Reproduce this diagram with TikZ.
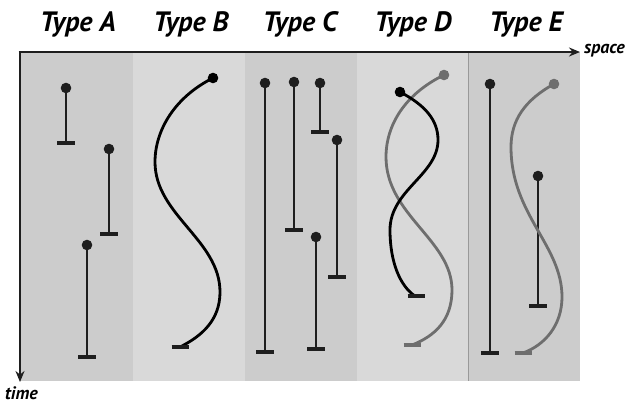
\documentclass[tikz,border=0pt]{standalone}
\usepackage{fontspec}
\setmainfont{PT Sans}
\usetikzlibrary{arrows.meta}
\definecolor{pdark}{HTML}{CCCCCC}
\definecolor{plight}{HTML}{D9D9D9}
\definecolor{ink}{HTML}{1E1E1E}
\definecolor{ghost}{HTML}{6E6E6E}
\tikzset{
  title/.style={font=\fontsize{28}{28}\selectfont\bfseries\itshape, inner sep=0pt, anchor=base},
  axlabel/.style={font=\fontsize{18}{18}\selectfont\bfseries\itshape, inner sep=0pt},
  axis/.style={draw=ink, line width=2.8pt},
  vline/.style={draw=ink, line width=2.8pt},
  endbar/.style={draw=ink, line width=3.4pt},
  blackcurve/.style={draw=black, line width=2.8pt},
  graycurve/.style={draw=ghost, line width=2.8pt},
}
\newcommand\lifeline[3]{%
  \draw[vline] (#1,#2) -- (#1,#3);
  \draw[endbar] (#1-9,#3) -- (#1+9,#3);
  \fill[ink] (#1,#2) circle (5.3);
}
\newcommand\topdot[3]{\fill[#3] (#1,#2) circle (5.3);}
\newcommand\botbar[3]{\draw[endbar,draw=#3] (#1-8.5,#2) -- (#1+8.5,#2);}
\begin{document}
\begin{tikzpicture}[x=1pt,y=-1pt]
\useasboundingbox (0,0) rectangle (629,403);
% panels
\fill[pdark]  (20,52) rectangle (132.5,381);
\fill[plight] (132.5,52) rectangle (245,381);
\fill[pdark]  (245,52) rectangle (357,381);
\fill[plight] (357,52) rectangle (468.5,381);
\fill[pdark]  (468.5,52) rectangle (580,381);
\draw[draw=black!40, line width=0.8pt] (468.5,52) -- (468.5,381);
% axes
\coordinate (O) at (20,52);
\coordinate (X) at (580,52);
\coordinate (Y) at (20,382);
\draw[axis, -{Stealth[length=11pt,width=9pt]}] ([xshift=-1.4pt]O) -- (X);
\draw[axis, -{Stealth[length=11pt,width=9pt]}] (O) -- (Y);
\node[axlabel, anchor=west] (sp) at (584,51) {space};
\node[axlabel, anchor=west] (tm) at (5,393) {time};
% titles
\node[title] (ta) at (78,31.5) {Type A};
\node[title] (tb) at (191,31.5) {Type B};
\node[title] (tc) at (300,31.5) {Type C};
\node[title] (td) at (413,31.5) {Type D};
\node[title] (te) at (526,31.5) {Type E};
% Type A
\lifeline{66}{88}{143}
\lifeline{109}{149}{234}
\lifeline{87}{245}{357}
% Type B
\draw[blackcurve] (213,78) .. controls (175,97) and (155,130) .. (155,162)
  .. controls (155,215) and (220,240) .. (220,292)
  .. controls (220,320) and (202,336) .. (180,347);
\botbar{180}{347}{ink}
\topdot{213}{78}{black}
% Type C
\lifeline{265}{83}{352}
\lifeline{294}{82}{230}
\lifeline{320}{83}{132}
\lifeline{337}{140}{277}
\lifeline{316}{237}{349}
% Type D
\draw[graycurve] (444,75) .. controls (405,94) and (386,125) .. (386,157)
  .. controls (386,215) and (452,240) .. (452,290)
  .. controls (452,320) and (435,336) .. (412,345);
\botbar{412}{345}{ghost}
\topdot{444}{75}{ghost}
\draw[blackcurve] (400,92) .. controls (425,105) and (438,120) .. (438,140)
  .. controls (438,175) and (390,190) .. (390,230)
  .. controls (390,262) and (400,286) .. (415,296);
\botbar{416}{296}{ink}
\topdot{400}{92}{black}
% Type E
\lifeline{490}{84}{353}
\lifeline{538}{176}{306}
\draw[graycurve] (554,84) .. controls (525,100) and (511,120) .. (511,147)
  .. controls (511,215) and (562,245) .. (562,297)
  .. controls (562,325) and (545,345) .. (523,353);
\botbar{523}{353}{ghost}
\topdot{554}{84}{ghost}
\end{tikzpicture}
\end{document}
